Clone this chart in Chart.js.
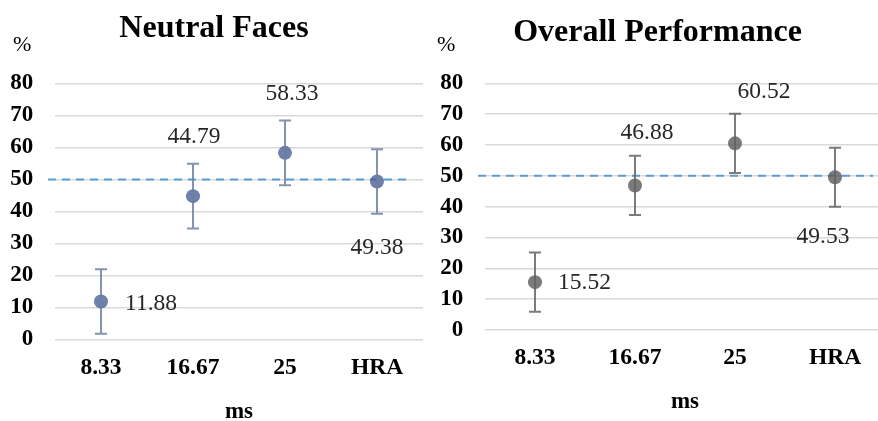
<!DOCTYPE html>
<html>
<head>
<meta charset="utf-8">
<script src="https://cdn.jsdelivr.net/npm/chart.js@4.4.1/dist/chart.umd.min.js"></script>
<style>
  html, body { margin: 0; padding: 0; background: #fff; overflow: hidden; }
  #wrap { position: relative; width: 878px; height: 421px; overflow: hidden; }
  .box { position: absolute; top: 0; height: 421px; }
  #box1 { left: 0; width: 430px; }
  #box2 { left: 430px; width: 470px; }
</style>
</head>
<body>
<div id="wrap">
  <div class="box" id="box1"><canvas id="c1" width="430" height="421"></canvas></div>
  <div class="box" id="box2"><canvas id="c2" width="470" height="421"></canvas></div>
</div>
<script>
// dados
const categories = ['8.33', '16.67', '25', 'HRA'];
const neutralMeans = [11.88, 44.79, 58.33, 49.38];
const neutralErrors = [10.1, 10.1, 10.1, 10.1];
const overallMeans = [15.52, 46.88, 60.52, 49.53];
const overallErrors = [9.6, 9.6, 9.6, 9.6];
const chanceLevel = 50;
const yMin = 0, yMax = 80, yStep = 10;

// onde cada rotulo fica em relacao ao ponto
const neutralLabelPos = [
  { dx: 24, dy: 2, align: 'left' }, { dx: 1, dy: -59 }, { dx: 7, dy: -59 }, { dx: 0, dy: 66 }
];
const overallLabelPos = [
  { dx: 23, dy: 1, align: 'left' }, { dx: 12, dy: -53 }, { dx: 29, dy: -52 }, { dx: -12, dy: 60 }
];

const SERIF = '"Liberation Serif", "Times New Roman", serif';

const extras = {
  id: 'extras',
  beforeDatasetsDraw(chart) {
    const { ctx, chartArea, scales } = chart;
    const y = scales.y.getPixelForValue(chanceLevel);
    ctx.save();
    ctx.strokeStyle = '#5b9bd5';
    ctx.lineWidth = 2;
    ctx.setLineDash([8, 6]);
    ctx.beginPath();
    ctx.moveTo(chartArea.left - 7, y);
    ctx.lineTo(chartArea.right - 12, y);
    ctx.stroke();
    ctx.restore();
  },
  afterDatasetsDraw(chart) {
    const { ctx, scales } = chart;
    const o = chart.options.plugins.extras;
    const meta = chart.getDatasetMeta(0);
    ctx.save();
    ctx.strokeStyle = o.barColor;
    ctx.lineWidth = 2;
    meta.data.forEach((pt, i) => {
      const v = o.means[i];
      const top = scales.y.getPixelForValue(v + o.errors[i]);
      const bot = scales.y.getPixelForValue(v - o.errors[i]);
      ctx.beginPath();
      ctx.moveTo(pt.x, top); ctx.lineTo(pt.x, bot);
      ctx.moveTo(pt.x - 6, top); ctx.lineTo(pt.x + 6, top);
      ctx.moveTo(pt.x - 6, bot); ctx.lineTo(pt.x + 6, bot);
      ctx.stroke();
    });
    // rotulos
    ctx.fillStyle = '#262626';
    ctx.font = '23.5px ' + SERIF;
    ctx.textBaseline = 'middle';
    meta.data.forEach((pt, i) => {
      const p = o.labelPos[i];
      ctx.textAlign = p.align || 'center';
      ctx.fillText(o.means[i].toFixed(2), pt.x + p.dx, pt.y + p.dy);
    });
    // simbolo de %
    ctx.fillStyle = '#000';
    ctx.textAlign = 'left';
    ctx.font = '22px ' + SERIF;
    ctx.fillText('%', o.pctX, 45);
    ctx.restore();
  }
};

function criaGrafico(canvas, titulo, means, errors, labelPos, cfg) {
  return new Chart(canvas.getContext('2d'), {
    type: 'line',
    data: {
      labels: categories,
      datasets: [{
        label: titulo,
        data: means,
        showLine: false,
        pointRadius: 7,
        pointHoverRadius: 7,
        pointBackgroundColor: cfg.pointColor,
        pointBorderWidth: 0
      }]
    },
    options: {
      responsive: false,
      animation: false,
      layout: { padding: { left: 0, right: cfg.padRight, top: 0, bottom: 0 } },
      plugins: {
        legend: { display: false },
        tooltip: { enabled: false },
        title: {
          display: true,
          text: titulo,
          color: '#000',
          font: { family: SERIF, size: 32, weight: 'bold' },
          padding: cfg.titlePad
        },
        extras: {
          means: means, errors: errors, labelPos: labelPos,
          barColor: cfg.barColor, pctX: cfg.pctX
        }
      },
      scales: {
        x: {
          offset: true,
          grid: { display: false, drawTicks: false },
          border: { display: false },
          ticks: { color: '#000', padding: cfg.xTickPad, font: { family: SERIF, size: 23.5, weight: 'bold' } },
          title: {
            display: true, text: 'ms', color: '#000',
            font: { family: SERIF, size: 23, weight: 'bold', lineHeight: cfg.msLine },
            padding: { top: 0, bottom: cfg.msPad }
          },
          afterFit(s) { s.height = cfg.xHeight; }
        },
        y: {
          min: yMin, max: yMax,
          grid: { color: '#d9d9d9', lineWidth: 1.5, drawTicks: false },
          border: { display: false },
          ticks: {
            stepSize: yStep, color: '#000', padding: 21.7,
            font: { family: SERIF, size: 23, weight: 'bold' }
          },
          afterFit(s) { s.width = 55; }
        }
      }
    },
    plugins: [extras]
  });
}

criaGrafico(document.getElementById('c1'), 'Neutral Faces', neutralMeans, neutralErrors, neutralLabelPos, {
  pointColor: 'rgba(72, 98, 150, 0.8)',
  barColor: 'rgba(110, 128, 160, 0.85)',
  padRight: 2,
  titlePad: { top: 10, bottom: 35.1 },
  xTickPad: 14.7,
  xHeight: 81.5,
  msLine: 0.8,
  msPad: 0,
  pctX: 13
});

criaGrafico(document.getElementById('c2'), 'Overall Performance', overallMeans, overallErrors, overallLabelPos, {
  pointColor: 'rgba(90, 90, 90, 0.8)',
  barColor: 'rgba(100, 100, 100, 0.85)',
  padRight: 15,
  titlePad: { top: 14, bottom: 30.9 },
  xTickPad: 14.2,
  xHeight: 91,
  msLine: 1.2,
  msPad: 5.5,
  pctX: 7
});
</script>
</body>
</html>
